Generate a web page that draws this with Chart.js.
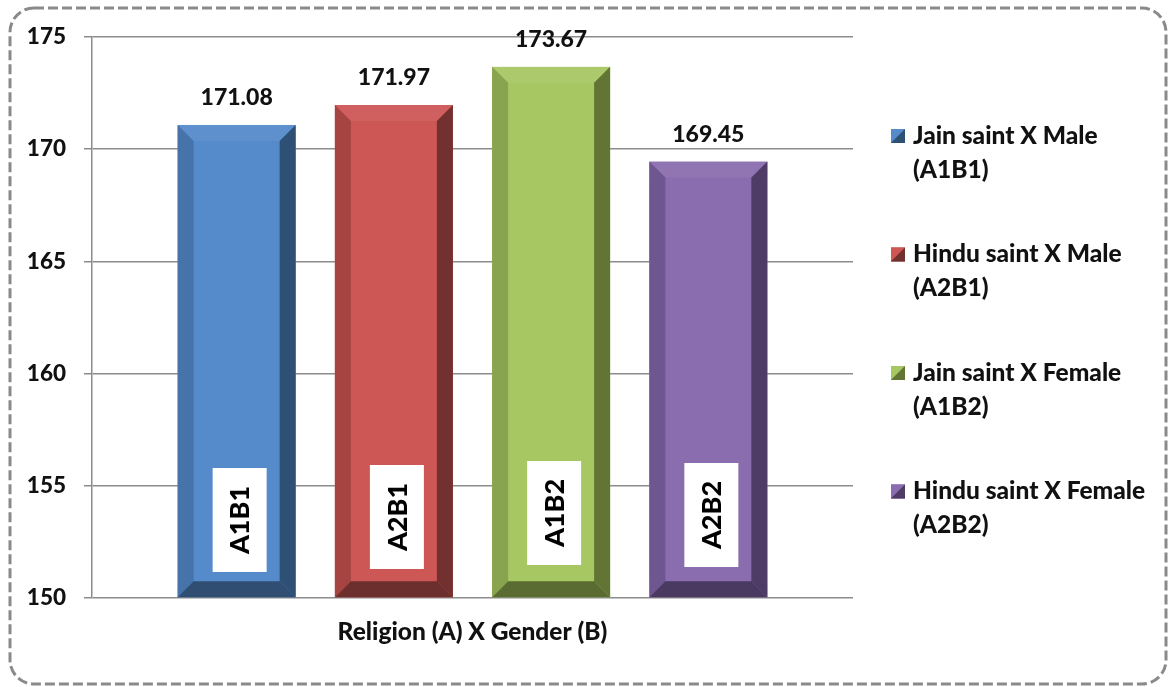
<!DOCTYPE html>
<html>
<head>
<meta charset="utf-8">
<script src="https://cdn.jsdelivr.net/npm/chart.js@4.4.1/dist/chart.umd.min.js"></script>
<style>
  html, body { margin: 0; padding: 0; background: #fff; }
  #wrap { position: relative; width: 1171px; height: 687px; }
</style>
</head>
<body>
<div id="wrap"><canvas id="chart" width="1171" height="687"></canvas></div>
<script>
// data
var groups = ['A1B1', 'A2B1', 'A1B2', 'A2B2'];
var legendNames = [
  ['Jain saint X Male', '(A1B1)'],
  ['Hindu saint X Male', '(A2B1)'],
  ['Jain saint X Female', '(A1B2)'],
  ['Hindu saint X Female', '(A2B2)']
];
var means = [171.08, 171.97, 173.67, 169.45];
var yTicks = [150, 155, 160, 165, 170, 175];

// colours: front, left side, right side, bottom
var faceColors = ['#558acb', '#cd5755', '#a7c763', '#8a6dae'];
var leftColors = ['#4673aa', '#a64442', '#88a44f', '#6e5690'];
var rightColors = ['#2f5075', '#72302e', '#627535', '#4e3c66'];
var bottomColors = ['#304d72', '#6c2f2d', '#5a6c31', '#4a3a62'];
var boxMidY = [520, 517, 513, 515];

var FONT = 'Lato, "Liberation Sans", sans-serif';
var W = '900';

// bevelled bars, value labels, rotated boxes, legend, dashed frame
var decorPlugin = {
  id: 'decor',
  afterDatasetsDraw: function (chart) {
    var ctx = chart.ctx;
    var meta = chart.getDatasetMeta(0);
    var bev = 16;
    meta.data.forEach(function (bar, i) {
      var p = bar.getProps(['x', 'y', 'base', 'width'], true);
      var l = p.x - p.width / 2, r = p.x + p.width / 2, t = p.y;
      var b = Math.min(p.base, chart.chartArea.bottom);
      ctx.save();
      // front
      ctx.fillStyle = faceColors[i];
      ctx.fillRect(l, t, r - l, b - t);
      // top bevel (slightly lighter)
      ctx.fillStyle = 'rgba(255,255,255,0.06)';
      ctx.beginPath();
      ctx.moveTo(l, t); ctx.lineTo(r, t); ctx.lineTo(r - bev, t + bev); ctx.lineTo(l + bev, t + bev);
      ctx.closePath(); ctx.fill();
      // left
      ctx.fillStyle = leftColors[i];
      ctx.beginPath();
      ctx.moveTo(l, t); ctx.lineTo(l + bev, t + bev); ctx.lineTo(l + bev, b - bev); ctx.lineTo(l, b);
      ctx.closePath(); ctx.fill();
      // right
      ctx.fillStyle = rightColors[i];
      ctx.beginPath();
      ctx.moveTo(r, t); ctx.lineTo(r - bev, t + bev); ctx.lineTo(r - bev, b - bev); ctx.lineTo(r, b);
      ctx.closePath(); ctx.fill();
      // bottom
      ctx.fillStyle = bottomColors[i];
      ctx.beginPath();
      ctx.moveTo(l, b); ctx.lineTo(l + bev, b - bev); ctx.lineTo(r - bev, b - bev); ctx.lineTo(r, b);
      ctx.closePath(); ctx.fill();

      // value above bar
      ctx.fillStyle = '#111';
      ctx.font = W + ' 23px ' + FONT;
      ctx.textAlign = 'center';
      ctx.textBaseline = 'middle';
      ctx.fillText(means[i].toFixed(2), p.x, t - 27);

      // white box with rotated group name
      var bw = 54, bh = 104;
      ctx.fillStyle = '#fff';
      ctx.fillRect(p.x - bw / 2 + 3, boxMidY[i] - bh / 2, bw, bh);
      ctx.translate(p.x + 3, boxMidY[i]);
      ctx.rotate(-Math.PI / 2);
      ctx.fillStyle = '#000';
      ctx.font = W + ' 27px ' + FONT;
      ctx.fillText(groups[i], 0, 1);
      ctx.restore();
    });

    // legend
    ctx.save();
    ctx.font = W + ' 24.5px ' + FONT;
    ctx.textAlign = 'left';
    ctx.textBaseline = 'middle';
    legendNames.forEach(function (lines, i) {
      var y0 = 136 + i * 118.5;
      var mx = 891, my = y0 - 7, ms = 14;
      ctx.fillStyle = leftColors[i];
      ctx.fillRect(mx, my, ms, ms);
      ctx.fillStyle = faceColors[i];
      ctx.beginPath();
      ctx.moveTo(mx, my); ctx.lineTo(mx + ms, my); ctx.lineTo(mx, my + ms);
      ctx.closePath(); ctx.fill();
      ctx.fillStyle = rightColors[i];
      ctx.beginPath();
      ctx.moveTo(mx + ms, my); ctx.lineTo(mx + ms, my + ms); ctx.lineTo(mx, my + ms);
      ctx.closePath(); ctx.fill();
      ctx.fillStyle = '#111';
      ctx.fillText(lines[0], 913, y0);
      ctx.fillText(lines[1], 913, y0 + 34);
    });
    ctx.restore();

    // dashed rounded frame
    ctx.save();
    ctx.strokeStyle = '#8a8a8a';
    ctx.lineWidth = 3;
    ctx.setLineDash([10, 4]);
    ctx.beginPath();
    ctx.roundRect(10, 8, 1156, 676, 24);
    ctx.stroke();
    ctx.restore();
  }
};

new Chart(document.getElementById('chart'), {
  type: 'bar',
  data: {
    datasets: [{
      data: means.map(function (v, i) { return { x: i, y: v }; }),
      backgroundColor: 'rgba(0,0,0,0)',
      borderWidth: 0,
      barThickness: 118,
      base: yTicks[0]
    }]
  },
  options: {
    responsive: false,
    animation: false,
    events: [],
    layout: { padding: { left: 0, right: 318, top: 37, bottom: 0 } },
    plugins: {
      legend: { display: false },
      tooltip: { enabled: false }
    },
    scales: {
      x: {
        type: 'linear',
        offset: false,
        min: -0.92,
        max: 3.92,
        grid: { display: false, offset: false },
        border: { display: false },
        ticks: { display: false },
        title: {
          display: true,
          text: 'Religion (A) X Gender (B)',
          color: '#111',
          font: { family: FONT, size: 24.5, weight: W },
          padding: { top: 0, bottom: 40 }
        },
        afterFit: function (s) { s.height = 89; }
      },
      y: {
        min: 150,
        max: 175,
        afterBuildTicks: function (s) { s.ticks = yTicks.map(function (v) { return { value: v }; }); },
        grid: { color: '#8c8c8c', lineWidth: 1.5, tickLength: 8 },
        border: { color: '#8c8c8c', width: 1.5 },
        ticks: {
          color: '#111',
          padding: 18,
          font: { family: FONT, size: 22.5, weight: W }
        },
        afterFit: function (s) { s.width = 92; }
      }
    }
  },
  plugins: [decorPlugin]
});
</script>
</body>
</html>
